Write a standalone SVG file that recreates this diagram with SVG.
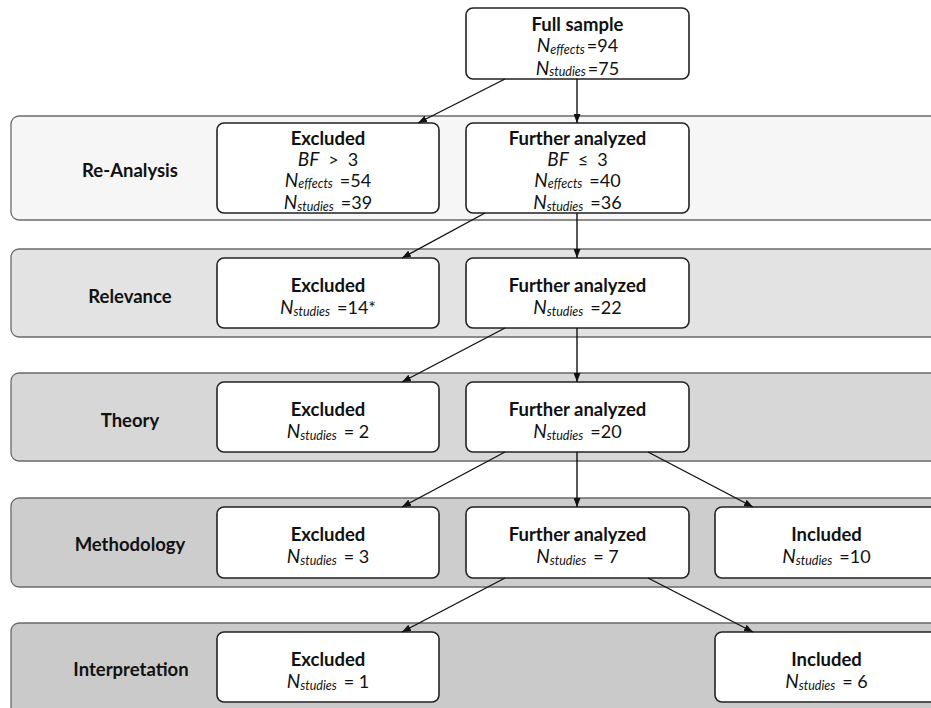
<svg xmlns="http://www.w3.org/2000/svg" width="931" height="708" viewBox="0 0 931 708">
<style>
text{font-family:Lato,"Open Sans","Liberation Sans",sans-serif;fill:#111;text-anchor:middle}
.t{font-weight:bold;font-size:18.5px}
.lbl{font-weight:bold;font-size:18.5px}
.v{font-size:18px}
.i{font-style:italic;font-size:19px}
.sub{font-style:italic;font-size:12.5px}
.band{stroke:#6a6a6a;stroke-width:1.3}
.box{fill:#fff;stroke:#222;stroke-width:1.6}
.con line{stroke:#111;stroke-width:1.4;marker-end:url(#ah)}
</style>
<defs>
<marker id="ah" markerUnits="userSpaceOnUse" markerWidth="9" markerHeight="7" refX="9" refY="3.5" orient="auto">
<path d="M0,0 L9,3.5 L0,7 z" fill="#111"/>
</marker>
</defs>
<rect width="931" height="708" fill="#fff"/>
<g id="bands">
<rect class="band" x="11" y="116" width="940" height="104" rx="8" fill="#f6f6f6"/>
<rect class="band" x="11" y="249" width="940" height="88" rx="8" fill="#e3e3e3"/>
<rect class="band" x="11" y="373" width="940" height="88" rx="8" fill="#d7d7d7"/>
<rect class="band" x="11" y="498" width="940" height="89" rx="8" fill="#cdcdcd"/>
<rect class="band" x="11" y="623" width="940" height="100" rx="8" fill="#cacaca"/>
<text class="lbl" x="130" y="177">Re-Analysis</text>
<text class="lbl" x="130" y="303">Relevance</text>
<text class="lbl" x="130" y="427">Theory</text>
<text class="lbl" x="130" y="551">Methodology</text>
<text class="lbl" x="131" y="676">Interpretation</text>
</g>
<g id="full-sample">
<rect class="box" x="466" y="8" width="223" height="71" rx="7"/>
<text class="t" x="577.5" y="30.5">Full sample</text>
<text class="v" x="577.5" y="52"><tspan class="i">N</tspan><tspan class="sub" dy="1.5">effects</tspan><tspan dy="-1.5" dx="2">=94</tspan></text>
<text class="v" x="577.5" y="74.5"><tspan class="i">N</tspan><tspan class="sub" dy="1.5">studies</tspan><tspan dy="-1.5" dx="2">=75</tspan></text>
</g>
<g id="reanalysis-excluded">
<rect class="box" x="217" y="123" width="222" height="90" rx="7"/>
<text class="t" x="328" y="145">Excluded</text>
<text class="v" x="328" y="166"><tspan class="i">BF</tspan><tspan dx="9">&gt;</tspan><tspan dx="9">3</tspan></text>
<text class="v" x="328" y="186.5"><tspan class="i">N</tspan><tspan class="sub" dy="1.5">effects</tspan><tspan dy="-1.5" dx="7">=54</tspan></text>
<text class="v" x="328" y="209"><tspan class="i">N</tspan><tspan class="sub" dy="1.5">studies</tspan><tspan dy="-1.5" dx="7">=39</tspan></text>
</g>
<g id="reanalysis-further">
<rect class="box" x="466" y="123" width="223" height="90" rx="7"/>
<text class="t" x="577.5" y="145">Further analyzed</text>
<text class="v" x="577.5" y="166"><tspan class="i">BF</tspan><tspan dx="9">≤</tspan><tspan dx="9">3</tspan></text>
<text class="v" x="577.5" y="186.5"><tspan class="i">N</tspan><tspan class="sub" dy="1.5">effects</tspan><tspan dy="-1.5" dx="7">=40</tspan></text>
<text class="v" x="577.5" y="209"><tspan class="i">N</tspan><tspan class="sub" dy="1.5">studies</tspan><tspan dy="-1.5" dx="7">=36</tspan></text>
</g>
<g id="relevance-excluded">
<rect class="box" x="217" y="258" width="222" height="70" rx="7"/>
<text class="t" x="328" y="292">Excluded</text>
<text class="v" x="328" y="314"><tspan class="i">N</tspan><tspan class="sub" dy="2">studies</tspan><tspan dy="-2" dx="7">=14*</tspan></text>
</g>
<g id="relevance-further">
<rect class="box" x="466" y="258" width="223" height="70" rx="7"/>
<text class="t" x="577.5" y="292">Further analyzed</text>
<text class="v" x="577.5" y="314"><tspan class="i">N</tspan><tspan class="sub" dy="2">studies</tspan><tspan dy="-2" dx="7">=22</tspan></text>
</g>
<g id="theory-excluded">
<rect class="box" x="217" y="382" width="222" height="70" rx="7"/>
<text class="t" x="328" y="416">Excluded</text>
<text class="v" x="328" y="438"><tspan class="i">N</tspan><tspan class="sub" dy="2">studies</tspan><tspan dy="-2" dx="7">= 2</tspan></text>
</g>
<g id="theory-further">
<rect class="box" x="466" y="382" width="223" height="70" rx="7"/>
<text class="t" x="577.5" y="416">Further analyzed</text>
<text class="v" x="577.5" y="438"><tspan class="i">N</tspan><tspan class="sub" dy="2">studies</tspan><tspan dy="-2" dx="7">=20</tspan></text>
</g>
<g id="methodology-excluded">
<rect class="box" x="217" y="507" width="222" height="71" rx="7"/>
<text class="t" x="328" y="541">Excluded</text>
<text class="v" x="328" y="563"><tspan class="i">N</tspan><tspan class="sub" dy="2">studies</tspan><tspan dy="-2" dx="7">= 3</tspan></text>
</g>
<g id="methodology-further">
<rect class="box" x="466" y="507" width="223" height="71" rx="7"/>
<text class="t" x="577.5" y="541">Further analyzed</text>
<text class="v" x="577.5" y="563"><tspan class="i">N</tspan><tspan class="sub" dy="2">studies</tspan><tspan dy="-2" dx="7">= 7</tspan></text>
</g>
<g id="methodology-included">
<rect class="box" x="715" y="507" width="223" height="71" rx="7"/>
<text class="t" x="826.5" y="541">Included</text>
<text class="v" x="826.5" y="563"><tspan class="i">N</tspan><tspan class="sub" dy="2">studies</tspan><tspan dy="-2" dx="7">=10</tspan></text>
</g>
<g id="interpretation-excluded">
<rect class="box" x="217" y="632" width="222" height="70" rx="7"/>
<text class="t" x="328" y="666">Excluded</text>
<text class="v" x="328" y="688"><tspan class="i">N</tspan><tspan class="sub" dy="2">studies</tspan><tspan dy="-2" dx="7">= 1</tspan></text>
</g>
<g id="interpretation-included">
<rect class="box" x="715" y="632" width="223" height="70" rx="7"/>
<text class="t" x="826.5" y="666">Included</text>
<text class="v" x="826.5" y="688"><tspan class="i">N</tspan><tspan class="sub" dy="2">studies</tspan><tspan dy="-2" dx="7">= 6</tspan></text>
</g>
<g id="connectors" class="con">
<line x1="505" y1="79" x2="418" y2="123"/>
<line x1="577" y1="79" x2="577" y2="123"/>
<line x1="485" y1="213" x2="402" y2="258"/>
<line x1="577" y1="213" x2="577" y2="258"/>
<line x1="505" y1="328" x2="402" y2="382"/>
<line x1="577" y1="328" x2="577" y2="382"/>
<line x1="505" y1="452" x2="402" y2="507"/>
<line x1="577" y1="452" x2="577" y2="507"/>
<line x1="648" y1="452" x2="753" y2="507"/>
<line x1="505" y1="578" x2="402" y2="632"/>
<line x1="648" y1="578" x2="753" y2="632"/>
</g>
</svg>
